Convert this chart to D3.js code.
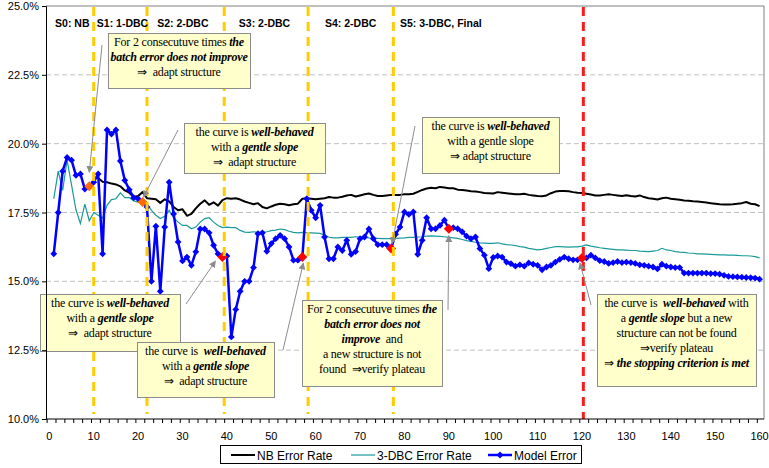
<!DOCTYPE html>
<html>
<head>
<meta charset="utf-8">
<script src="https://cdn.jsdelivr.net/npm/d3@7"></script>
<style>
  body { margin: 0; background: #fff; }
  svg { display: block; }
  text { white-space: pre; }
  .note { font-family: "Liberation Serif", "Times New Roman", Times, serif; font-size: 12px; }
  .sans { font-family: "Liberation Sans", Arial, sans-serif; }
</style>
</head>
<body>
<svg id="chart" width="769" height="468"></svg>
<script>
// ---- data -------------------------------------------------------------
const batches = d3.range(1, 161);

const modelError = [
  16.0, 17.5, 19.0, 19.5, 19.4, 18.85, 18.9, 18.35, 18.45, 18.6,
  18.9, 16.0, 20.5, 20.35, 20.5, 19.37, 18.67, 18.33, 18.04, 18.0,
  17.88, 17.7, 15.0, 17.0, 14.64, 16.97, 18.6, 17.45, 16.43, 15.74,
  15.88, 15.58, 16.07, 16.9, 16.9, 16.76, 16.31, 16.0, 15.88, 15.92,
  12.98, 13.98, 14.64, 15.0, 15.0, 15.5, 16.73, 16.76, 16.09, 16.37,
  16.55, 16.67, 16.55, 16.25, 15.77, 15.77, 15.88, 18.0, 17.58, 17.31,
  17.76, 16.61, 15.82, 15.82, 16.25, 16.12, 16.49, 15.98, 16.08, 16.55,
  16.61, 16.9, 16.55, 16.33, 16.33, 16.33, 16.19, 16.71, 16.97, 17.52,
  17.43, 17.52, 15.98, 16.49, 17.31, 16.91, 16.91, 17.03, 17.22, 16.91,
  16.95, 16.91, 16.8, 16.64, 16.55, 16.61, 16.19, 15.95, 15.46, 15.87,
  15.92, 15.88, 15.7, 15.64, 15.55, 15.6, 15.55, 15.67, 15.62, 15.58,
  15.42, 15.52, 15.58, 15.7, 15.8, 15.88, 15.82, 15.78, 15.78, 15.85,
  15.85, 15.95, 15.85, 15.75, 15.72, 15.65, 15.68, 15.72, 15.68, 15.7,
  15.68, 15.65, 15.6, 15.58, 15.55, 15.52, 15.45, 15.62, 15.55, 15.52,
  15.5, 15.5, 15.3, 15.3, 15.3, 15.3, 15.3, 15.3, 15.28, 15.28,
  15.26, 15.22, 15.18, 15.17, 15.16, 15.15, 15.14, 15.13, 15.12, 15.08
];

// NB error rate is only reported from batch 11 on
const nbFirstBatch = 11;
const nbErrorRate = [
  18.75, 18.62, 18.6, 18.55, 18.52, 18.45, 18.3, 18.22, 18.06, 18.1,
  18.24, 18.02, 18.0, 17.98, 17.85, 17.98, 17.9, 17.7, 17.58, 17.62,
  17.38, 17.45, 17.65, 17.82, 17.94, 17.78, 17.87, 17.75, 17.95, 18.02,
  18.0, 18.02, 17.97, 17.9, 17.85, 17.8, 17.84, 17.7, 17.65, 17.72,
  17.78, 17.82, 17.8, 17.76, 17.8, 17.82, 18.0, 18.02, 18.0, 17.98,
  18.0, 18.02, 18.06, 18.04, 18.04, 18.07, 18.12, 18.14, 18.08, 18.12,
  18.16, 18.19, 18.14, 18.1, 18.1, 18.12, 18.14, 18.14, 18.14, 18.16,
  18.16, 18.18, 18.25, 18.32, 18.37, 18.4, 18.38, 18.43, 18.41, 18.38,
  18.38, 18.33, 18.32, 18.3, 18.27, 18.26, 18.24, 18.21, 18.2, 18.19,
  18.24, 18.22, 18.2, 18.18, 18.16, 18.16, 18.18, 18.14, 18.12, 18.1,
  18.09, 18.12, 18.2, 18.26, 18.28, 18.28, 18.27, 18.24, 18.22, 18.21,
  18.18, 18.15, 18.12, 18.12, 18.14, 18.16, 18.14, 18.12, 18.1, 18.13,
  18.1, 18.08, 18.12, 18.06, 18.02, 18.0, 17.97, 18.02, 18.04, 18.0,
  17.98, 17.96, 17.94, 17.93, 17.91, 17.9, 17.88, 17.86, 17.84, 17.82,
  17.8, 17.79, 17.79, 17.8, 17.82, 17.84, 17.88, 17.82, 17.8, 17.73
];

const dbc3ErrorRate = [
  18.0, 19.0, 18.3, 19.4, 18.5, 17.6, 17.1, 17.8, 17.2, 17.5,
  17.4, 17.3, 17.76, 17.97, 18.0, 18.21, 18.04, 18.04, 17.92, 17.88,
  17.93, 17.82, 17.58, 17.4, 17.28, 17.36, 17.58, 17.31, 17.15, 17.03,
  17.03, 16.91, 16.97, 17.15, 17.28, 17.31, 17.15, 17.03, 16.95, 16.97,
  16.95, 16.95, 16.85, 16.79, 16.78, 16.8, 16.78, 16.78, 16.8, 16.84,
  16.86, 16.9, 16.88, 16.82, 16.78, 16.76, 16.78, 16.77, 16.76, 16.75,
  16.74, 16.68, 16.6, 16.58, 16.58, 16.6, 16.6, 16.6, 16.62, 16.61,
  16.6, 16.58, 16.57, 16.56, 16.55, 16.55, 16.55, 16.56, 16.57, 16.58,
  16.6, 16.6, 16.61, 16.62, 16.64, 16.65, 16.64, 16.63, 16.62, 16.6,
  16.58, 16.56, 16.52, 16.48, 16.45, 16.42, 16.4, 16.39, 16.38, 16.38,
  16.4, 16.36, 16.33, 16.32, 16.3, 16.26, 16.24, 16.2, 16.17, 16.14,
  16.16, 16.2, 16.23, 16.26, 16.26, 16.25, 16.24, 16.25, 16.25, 16.28,
  16.32, 16.28, 16.25, 16.22, 16.2, 16.18, 16.16, 16.14, 16.14, 16.13,
  16.12, 16.12, 16.1, 16.09, 16.08, 16.1, 16.12, 16.2, 16.14, 16.12,
  16.08, 16.06, 16.05, 16.03, 16.02, 16.0, 16.0, 15.99, 15.98, 15.97,
  15.96, 15.96, 15.95, 15.95, 15.94, 15.93, 15.93, 15.92, 15.9, 15.85
];

const yTickValues = [10, 12.5, 15, 17.5, 20, 22.5, 25];
const xTickValues = d3.range(0, 161, 10);

// stage boundaries (batch positions) and stage names
const stageBounds = [10, 22, 39.4, 58.3, 77.5];
const stopBound = 120.3;
const stageNames = ["S0: NB", "S1: 1-DBC", "S2: 2-DBC", "S3: 2-DBC", "S4: 2-DBC", "S5: 3-DBC, Final"];
const stageNameAt = [1.3, 10.7, 24.3, 42.7, 62.1, 79.0];

// batches where a decision was taken
const decisionBatches = [9, 21, 39, 57, 77, 90, 120];
const decisionKinds = ["adapt", "adapt", "check", "check", "check", "check", "check"];

// ---- layout -------------------------------------------------------------
const svg = d3.select("#chart");
const plot = { left: 46, right: 764, top: 6, bottom: 419 };

const x = d3.scaleLinear().domain([-0.75, 161]).range([plot.left, plot.right]);
const y = d3.scaleLinear().domain([10, 25]).range([plot.bottom, plot.top]);

const C = {
  model: "#0000ff",
  nb: "#000000",
  dbc: "#1a9a9a",
  stage: "#ffcc00",
  stop: "#ff1a1a",
  adapt: "#ff6a00",
  check: "#ff0000",
  grid: "#c0c0c0",
  noteFill: "#ffffcc",
  noteStroke: "#8c8c8c",
  arrow: "#8c8c8c"
};

// gridlines
svg.append("g")
  .selectAll("line")
  .data(yTickValues.filter(v => v > 10 && v < 25))
  .join("line")
  .attr("x1", plot.left).attr("x2", plot.right)
  .attr("y1", d => y(d)).attr("y2", d => y(d))
  .attr("stroke", C.grid).attr("stroke-width", 1)
  .attr("stroke-dasharray", "5,3");

// plot frame (top / right)
svg.append("path")
  .attr("d", `M${plot.left},${plot.top}H${plot.right}V${plot.bottom}`)
  .attr("fill", "none").attr("stroke", "#808080").attr("stroke-width", 1);

// series
const modelPts = batches.map((b, i) => [b, modelError[i]]);
const nbPts = nbErrorRate.map((v, i) => [nbFirstBatch + i, v]);
const dbcPts = batches.map((b, i) => [b, dbc3ErrorRate[i]]);

const line = d3.line().x(d => x(d[0])).y(d => y(d[1]));

svg.append("path").datum(dbcPts).attr("d", line)
  .attr("fill", "none").attr("stroke", C.dbc).attr("stroke-width", 1.2);

svg.append("path").datum(nbPts).attr("d", line)
  .attr("fill", "none").attr("stroke", C.nb).attr("stroke-width", 2)
  .attr("stroke-linejoin", "round");

svg.append("path").datum(modelPts).attr("d", line)
  .attr("fill", "none").attr("stroke", C.model).attr("stroke-width", 2.5)
  .attr("stroke-linejoin", "round");

const diamond = r => `M0,${-r}L${r},0L0,${r}L${-r},0Z`;

svg.append("g")
  .selectAll("path")
  .data(modelPts)
  .join("path")
  .attr("transform", d => `translate(${x(d[0])},${y(d[1])})`)
  .attr("d", diamond(3.4))
  .attr("fill", C.model);

// decision markers
svg.append("g")
  .selectAll("path")
  .data(decisionBatches.map((b, i) => ({ b, v: modelError[b - 1], kind: decisionKinds[i] })))
  .join("path")
  .attr("transform", d => `translate(${x(d.b)},${y(d.v)})`)
  .attr("d", diamond(5))
  .attr("fill", d => d.kind === "adapt" ? C.adapt : C.check);

// stage boundaries
svg.append("g")
  .selectAll("line")
  .data(stageBounds)
  .join("line")
  .attr("x1", d => x(d)).attr("x2", d => x(d))
  .attr("y1", plot.top + 1).attr("y2", plot.bottom - 5)
  .attr("stroke", C.stage).attr("stroke-width", 3)
  .attr("stroke-dasharray", "9,6");

svg.append("line")
  .attr("x1", x(stopBound)).attr("x2", x(stopBound))
  .attr("y1", plot.top + 1).attr("y2", plot.bottom)
  .attr("stroke", C.stop).attr("stroke-width", 3)
  .attr("stroke-dasharray", "9,6");

// stage names
svg.append("g")
  .selectAll("text")
  .data(stageNames)
  .join("text")
  .attr("class", "sans")
  .attr("x", (d, i) => x(stageNameAt[i]))
  .attr("y", 26.5)
  .attr("font-size", 10.5)
  .attr("font-weight", "bold")
  .text(d => d);

// ---- notes --------------------------------------------------------------
const N = "", B = "bi";
const notes = [
  { box: [108, 33, 142, 55], from: [102, 45], at: 9, tip: [0, -14],
    lines: [[["For 2 consecutuve times ", N], ["the", B]],
            [["batch error does not improve", B]],
            [["\u21D2  adapt structure", N]]] },
  { box: [184, 123, 141, 50], from: [178, 130], at: 21, tip: [1, -5],
    lines: [[["the curve is ", N], ["well-behaved", B]],
            [["with a ", N], ["gentle slope", B]],
            [["\u21D2  adapt structure", N]]] },
  { box: [40, 294, 140, 57], from: [186, 304], at: 39, tip: [-7, 4],
    lines: [[["the curve is ", N], ["well-behaved", B]],
            [["with a ", N], ["gentle slope", B]],
            [["\u21D2  adapt structure", N]]] },
  { box: [137, 342, 137, 55], from: [283, 350], at: 57, tip: [1, 6],
    lines: [[["the curve is  ", N], ["well-behaved", B]],
            [["with a ", N], ["gentle slope", B]],
            [["\u21D2  adapt structure", N]]] },
  { box: [302, 300, 140, 86], from: [448, 310], at: 90, tip: [0, 7],
    lines: [[["For 2 consecutuve times ", N], ["the", B]],
            [["batch error does not", B]],
            [["improve", B], ["  and", N]],
            [["a new structure is not", N]],
            [["found  \u21D2verify plateau", N]]] },
  { box: [422, 117, 137, 56], from: [415, 126], at: 77, tip: [1, -5],
    lines: [[["the curve is ", N], ["well-behaved", B]],
            [["with a gentle slope", N]],
            [["\u21D2 adapt structure", N]]] },
  { box: [597, 294, 159, 92], from: [591, 305], at: 120, tip: [-2, 5],
    lines: [[["the curve is  ", N], ["well-behaved", B], [" with", N]],
            [["a ", N], ["gentle slope", B], [" but a new", N]],
            [["structure can not be found", N]],
            [["\u21D2verify plateau", N]],
            [["\u21D2 ", N], ["the stopping criterion is met", B]]] }
];

svg.append("defs").append("marker")
  .attr("id", "head")
  .attr("viewBox", "0 0 10 10")
  .attr("refX", 9).attr("refY", 5)
  .attr("markerWidth", 7).attr("markerHeight", 7)
  .attr("markerUnits", "userSpaceOnUse")
  .attr("orient", "auto")
  .append("path").attr("d", "M0,0L10,5L0,10Z").attr("fill", C.arrow);

const noteG = svg.append("g");
notes.forEach(n => {
  const tx = x(n.at) + n.tip[0];
  const ty = y(modelError[n.at - 1]) + n.tip[1];
  noteG.append("line")
    .attr("x1", n.from[0]).attr("y1", n.from[1])
    .attr("x2", tx).attr("y2", ty)
    .attr("stroke", C.arrow).attr("stroke-width", 1)
    .attr("marker-end", "url(#head)");
});
notes.forEach(n => {
  const [bx, by, bw, bh] = n.box;
  noteG.append("rect")
    .attr("x", bx + 0.5).attr("y", by + 0.5)
    .attr("width", bw).attr("height", bh)
    .attr("fill", C.noteFill).attr("stroke", C.noteStroke).attr("stroke-width", 1);
  const t = noteG.append("text")
    .attr("class", "note")
    .attr("letter-spacing", -0.2)
    .attr("text-anchor", "middle");
  n.lines.forEach((segs, li) => {
    segs.forEach((s, si) => {
      const sp = t.append("tspan").text(s[0]);
      if (si === 0) sp.attr("x", bx + bw / 2).attr("y", by + 13 + li * 15);
      if (s[1] === B) sp.attr("font-style", "italic").attr("font-weight", "bold");
    });
  });
});

// ---- axes ---------------------------------------------------------------
const yAxis = svg.append("g").attr("transform", `translate(${plot.left},0)`)
  .call(d3.axisLeft(y).tickValues(yTickValues).tickSize(4)
    .tickFormat(d => d3.format(".1f")(d) + "%"));
yAxis.select(".domain").attr("stroke", "#000");
yAxis.selectAll(".tick line").attr("stroke", "#000");
yAxis.selectAll(".tick text").attr("class", "sans").attr("font-family", null)
  .attr("font-size", 11).attr("fill", "#000").attr("x", -7);
yAxis.attr("font-family", null);

// small ticks sit between batches, labels on round batch numbers
const xAxis = svg.append("g").attr("transform", `translate(0,${plot.bottom})`);
xAxis.append("line")
  .attr("x1", plot.left).attr("x2", plot.right)
  .attr("stroke", "#000");
xAxis.selectAll("line.tk")
  .data(d3.range(-0.5, 161, 2))
  .join("line").attr("class", "tk")
  .attr("x1", d => x(d)).attr("x2", d => x(d))
  .attr("y1", 0).attr("y2", 4)
  .attr("stroke", "#000");
xAxis.selectAll("text")
  .data(xTickValues)
  .join("text")
  .attr("class", "sans")
  .attr("x", d => x(d)).attr("y", 21)
  .attr("text-anchor", "middle")
  .attr("font-size", 11)
  .text(d => d);

// ---- legend -------------------------------------------------------------
const legend = svg.append("g");
legend.append("rect")
  .attr("x", 220.5).attr("y", 445.5).attr("width", 361).attr("height", 18)
  .attr("fill", "#fff").attr("stroke", "#000");

const legendItems = [
  { label: "NB Error Rate", color: C.nb, w: 2, x0: 231, marker: false },
  { label: "3-DBC Error Rate", color: C.dbc, w: 1.2, x0: 351, marker: false },
  { label: "Model Error", color: C.model, w: 2.5, x0: 488, marker: true }
];
legendItems.forEach(it => {
  legend.append("line")
    .attr("x1", it.x0).attr("x2", it.x0 + 24)
    .attr("y1", 455).attr("y2", 455)
    .attr("stroke", it.color).attr("stroke-width", it.w);
  if (it.marker) {
    legend.append("path")
      .attr("transform", `translate(${it.x0 + 12},455)`)
      .attr("d", diamond(3.4)).attr("fill", it.color);
  }
  legend.append("text")
    .attr("class", "sans")
    .attr("x", it.x0 + 26).attr("y", 459.5)
    .attr("font-size", 12)
    .text(it.label);
});
</script>
</body>
</html>
